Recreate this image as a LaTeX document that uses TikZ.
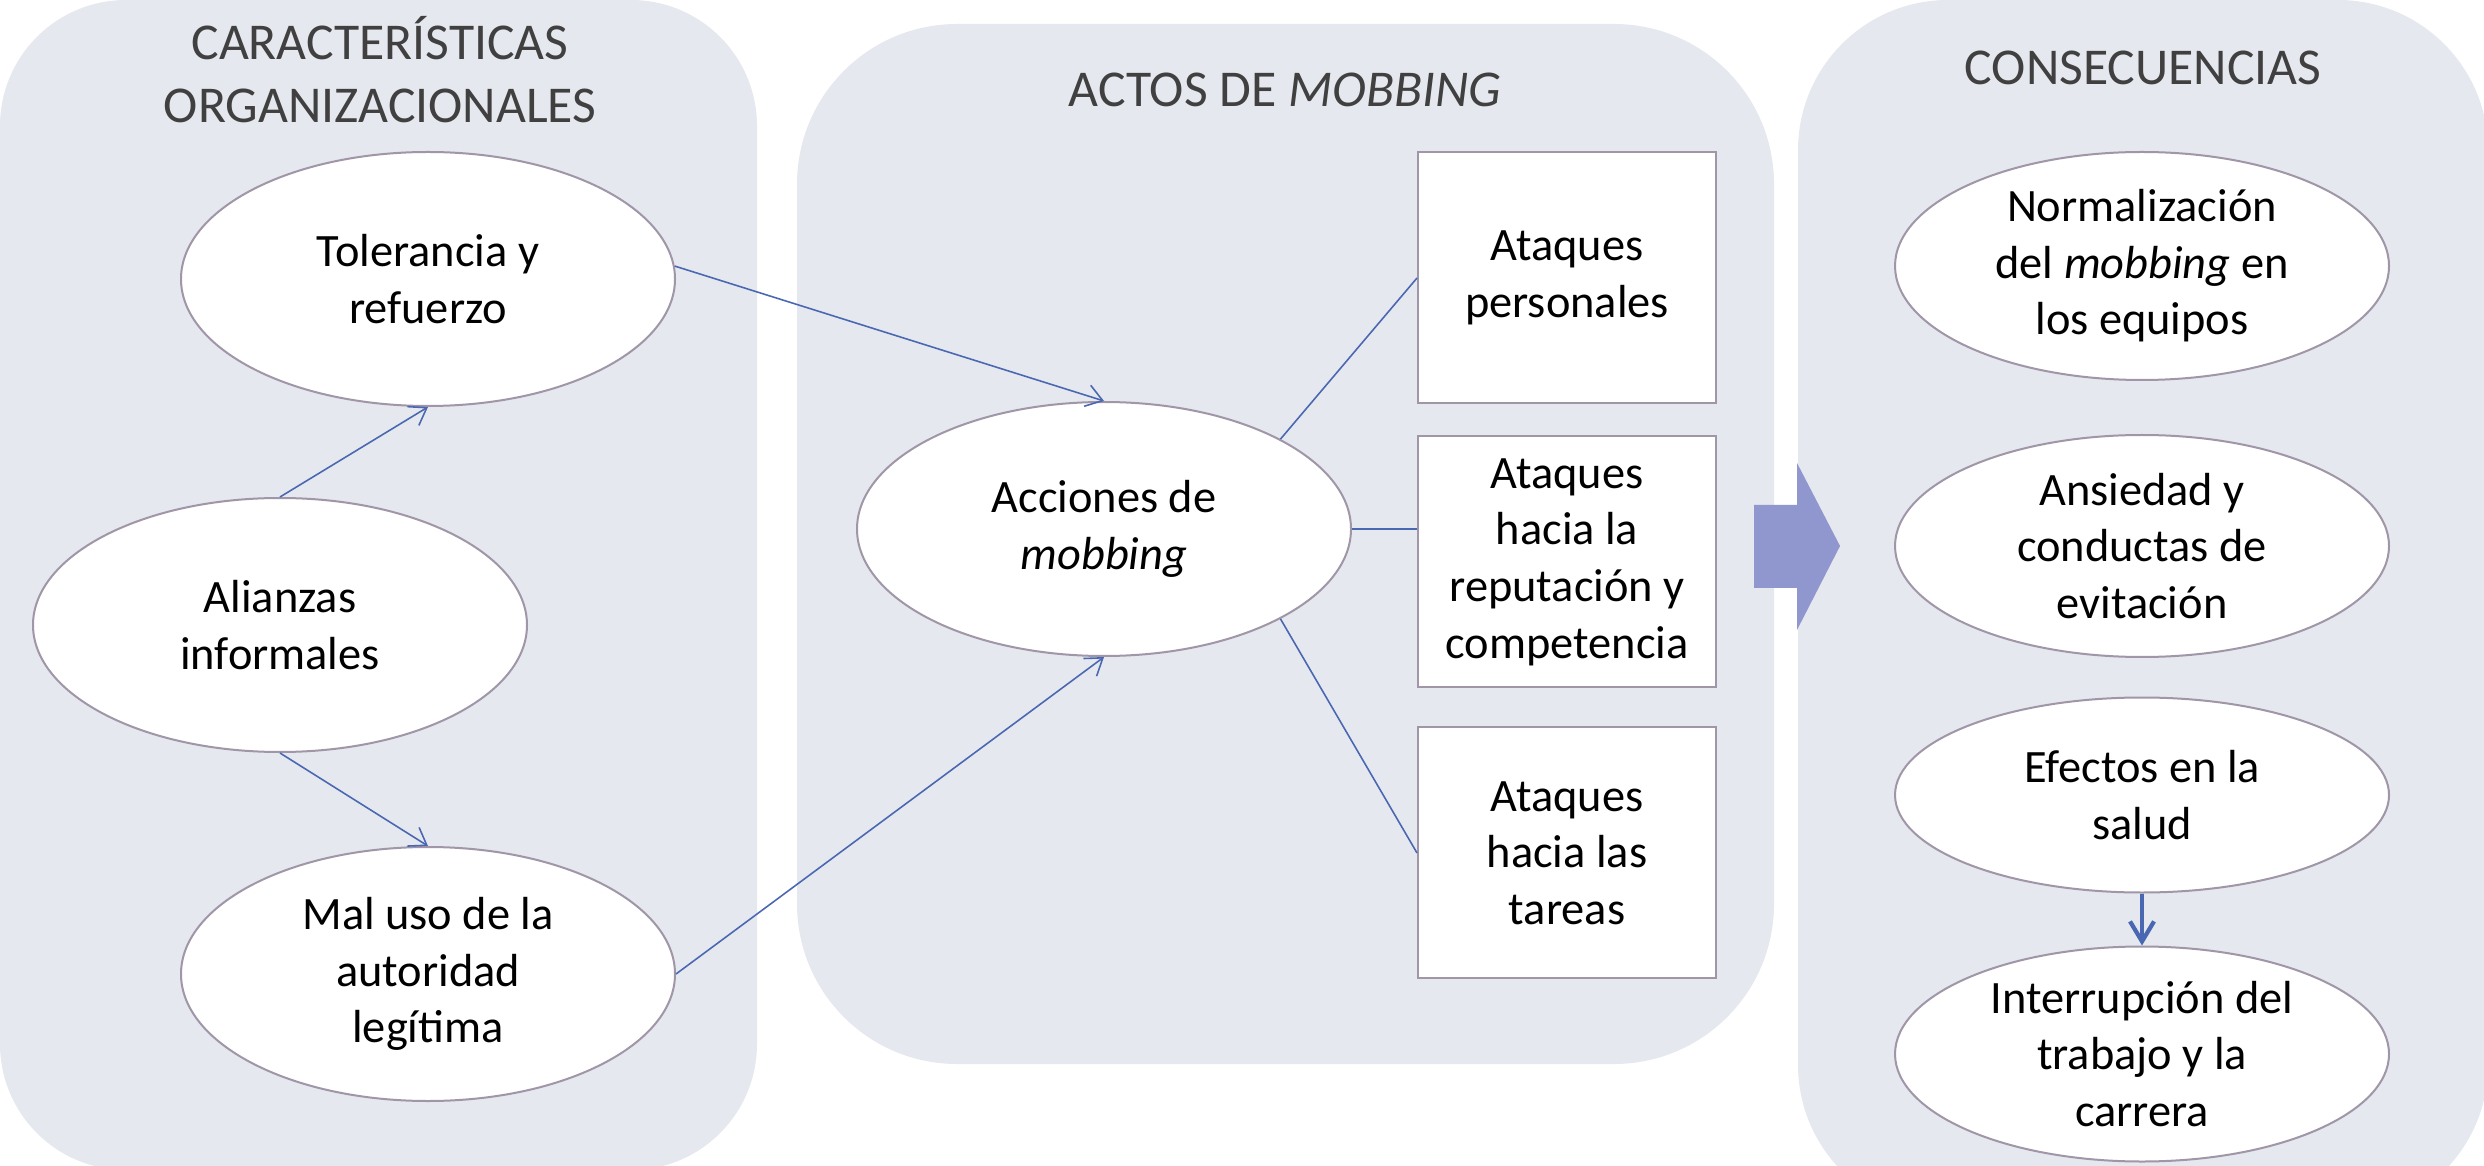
\documentclass[tikz,border=0pt]{standalone}
\usepackage{fontspec}
\setmainfont{Carlito}
\usetikzlibrary{positioning,arrows.meta,shapes.geometric}

\definecolor{panelgray}{HTML}{E5E8EE}
\definecolor{rimgray}{HTML}{A096A8}
\definecolor{linkblue}{HTML}{4A67B1}
\definecolor{arrowblue}{HTML}{8F97CE}
\definecolor{titlegray}{HTML}{404040}

\begin{document}
\begin{tikzpicture}[x=0.1mm, y=-0.1mm,
    panel/.style={fill=panelgray},
    title/.style={text=titlegray, align=center, font=\fontsize{14.7}{17.9}\selectfont},
    oval/.style={ellipse, draw=rimgray, line width=0.2mm, fill=white, inner sep=0pt, minimum width=49.4mm, minimum height=25.4mm, align=center, font=\fontsize{13.2}{16.1}\selectfont},
    attack/.style={rectangle, draw=rimgray, line width=0.2mm, fill=white, inner sep=0pt, minimum width=29.8mm, minimum height=25.1mm, align=center, font=\fontsize{13.2}{16.1}\selectfont},
    link/.style={draw=linkblue, line width=0.45pt},
    linkarrow/.style={link, -{Straight Barb[length=1.6mm, width=2.2mm]}},
    bigstep/.style={draw=linkblue, line width=1.2pt, -{Straight Barb[length=2mm, width=2.4mm]}}]

    \clip (0,0) rectangle (2484,1166);

    % fondos
    \fill[panel, rounded corners=12.6mm] (0,0) rectangle (757,1170);
    \fill[panel, rounded corners=16mm] (797,24) rectangle (1774,1064);
    \fill[panel, rounded corners=15mm] (1798,0) rectangle (2488,1215);

    \fill[arrowblue] (1754,505) -- (1797,505) -- (1797,463) -- (1840,546) -- (1797,630) -- (1797,588) -- (1754,588) -- cycle;

    \node[title] (titleorg) at (380,70) {CARACTERÍSTICAS\\ORGANIZACIONALES};
    \node[title] (titleact) at (1285,90) {ACTOS DE \textit{MOBBING}};
    \node[title] (titlecon) at (2143,68) {CONSECUENCIAS};

    % caracteristicas
    \node[oval] (tol) at (428,279) {Tolerancia y\\refuerzo};
    \node[oval] (ali) at (280,625) {Alianzas\\informales};
    \node[oval] (mal) at (428,974) {Mal uso de la\\autoridad\\legítima};

    % actos
    \node[oval] (acc) at (1104,529) {Acciones de\\\textit{mobbing}};
    \node[attack] (ap) at (1567,278) {Ataques\\personales};
    \node[attack, below=3.1mm of ap] (ar) {Ataques\\hacia la\\reputación y\\competencia};
    \node[attack, below=3.8mm of ar] (at) {Ataques\\hacia las\\tareas};

    % consecuencias
    \node[oval, minimum height=22.8mm] (nor) at (2142,266) {Normalización\\del \textit{mobbing} en\\los equipos};
    \node[oval, minimum height=22.2mm] (ans) at (2142,546) {Ansiedad y\\conductas de\\evitación};
    \node[oval, minimum height=19.5mm] (efe) at (2142,795) {Efectos en la\\salud};
    \node[oval, minimum height=21.5mm] (int) at (2142,1054) {Interrupción del\\trabajo y la\\carrera};

    \draw[linkarrow] (tol.3) -- (acc.north);
    \draw[linkarrow] (ali.north) -- (tol.south);
    \draw[linkarrow] (ali.south) -- (mal.north);
    \draw[linkarrow] (mal.east) -- (acc.south);

    \draw[link] (acc.27) -- (ap.west);
    \draw[link] (acc.east) -- (acc.east -| ar.west);
    \draw[link] (acc.-27) -- (at.west);

    \draw[bigstep] (efe.south) -- (int.north);

\end{tikzpicture}
\end{document}
